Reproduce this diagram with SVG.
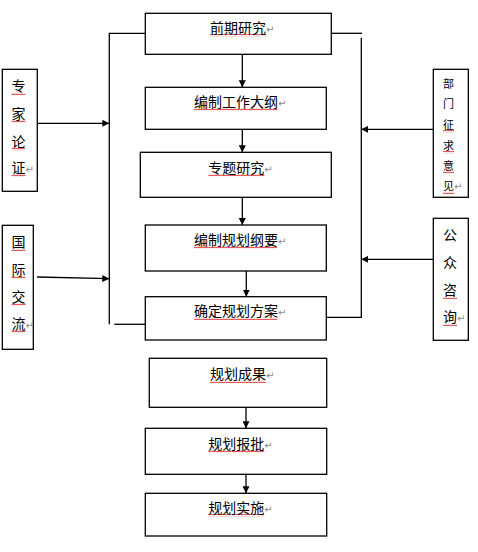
<svg xmlns="http://www.w3.org/2000/svg" width="478" height="552" viewBox="0 0 478 552">
<style>
.box{fill:#fff;stroke:#000;stroke-width:1.3}
.ln{fill:none;stroke:#000;stroke-width:1.3}
.t{font-family:"Noto Sans CJK SC","Noto Sans",sans-serif;font-size:14px;fill:#000}
.s{font-size:11px}
.pm{font-family:"DejaVu Sans",sans-serif;font-size:10px;fill:#888}
.sq{fill:url(#wave)}
</style>
<defs>
<pattern id="wave" width="4" height="3" patternUnits="userSpaceOnUse">
<path d="M0,2.2 L1,0.8 L2,2.2 L3,0.8 L4,2.2" fill="none" stroke="#e03030" stroke-width="0.8"/>
</pattern>
<marker id="ah" markerUnits="userSpaceOnUse" markerWidth="8" markerHeight="7" refX="7" refY="3.5" orient="auto">
<path d="M0,0 L7,3.5 L0,7 z" fill="#000"/>
</marker>
</defs>

<g id="connectors">
<path class="ln" d="M242.3,54.3 V87.3" marker-end="url(#ah)"/>
<path class="ln" d="M242.3,129.3 V152.3" marker-end="url(#ah)"/>
<path class="ln" d="M242.3,197.3 V225" marker-end="url(#ah)"/>
<path class="ln" d="M246.3,271 V296.7" marker-end="url(#ah)"/>
<path class="ln" d="M246,407.3 V428.3" marker-end="url(#ah)"/>
<path class="ln" d="M246,474.3 V493.3" marker-end="url(#ah)"/>
<path class="ln" d="M145.3,33.3 H109.3 V324.3"/>
<path class="ln" d="M114.3,324.3 H145.3"/>
<path class="ln" d="M37.3,123.3 H109.3" marker-end="url(#ah)"/>
<path class="ln" d="M37,277 L109.3,278.7" marker-end="url(#ah)"/>
<path class="ln" d="M331.3,33.3 H362"/>
<path class="ln" d="M361.3,37.7 V317.3 H325.3"/>
<path class="ln" d="M433.3,129.3 H361.3" marker-end="url(#ah)"/>
<path class="ln" d="M433.3,259.3 H361.3" marker-end="url(#ah)"/>
</g>

<g id="n1">
<rect class="box" x="145.3" y="13.3" width="186" height="41"/>
<rect class="sq" x="210" y="34" width="56" height="3"/>
<text class="t" x="210" y="33">前期研究<tspan class="pm">↵</tspan></text>
</g>
<g id="n2">
<rect class="box" x="145.3" y="87.3" width="181" height="42"/>
<rect class="sq" x="194" y="108" width="83" height="3"/>
<text class="t" x="194" y="107">编制工作大纲<tspan class="pm">↵</tspan></text>
</g>
<g id="n3">
<rect class="box" x="140.3" y="152.3" width="191" height="45"/>
<rect class="sq" x="208.3" y="173.5" width="56" height="3"/>
<text class="t" x="208.3" y="172.5">专题研究<tspan class="pm">↵</tspan></text>
</g>
<g id="n4">
<rect class="box" x="145.3" y="225" width="181" height="46"/>
<rect class="sq" x="194" y="246" width="83" height="3"/>
<text class="t" x="194" y="245">编制规划纲要<tspan class="pm">↵</tspan></text>
</g>
<g id="n5">
<rect class="box" x="145.3" y="296.7" width="181" height="43.3"/>
<rect class="sq" x="194" y="317" width="83" height="3"/>
<text class="t" x="194" y="316">确定规划方案<tspan class="pm">↵</tspan></text>
</g>
<g id="n6">
<rect class="box" x="149.3" y="358.3" width="177.4" height="49"/>
<rect class="sq" x="210" y="380" width="56" height="3"/>
<text class="t" x="210" y="379">规划成果<tspan class="pm">↵</tspan></text>
</g>
<g id="n7">
<rect class="box" x="145.3" y="428.3" width="181.4" height="46"/>
<rect class="sq" x="208.3" y="450" width="56" height="3"/>
<text class="t" x="208.3" y="449">规划报批<tspan class="pm">↵</tspan></text>
</g>
<g id="n8">
<rect class="box" x="145.3" y="493.3" width="181.4" height="42.7"/>
<rect class="sq" x="208.3" y="514" width="56" height="3"/>
<text class="t" x="208.3" y="513">规划实施<tspan class="pm">↵</tspan></text>
</g>

<g id="expert">
<rect class="box" x="2.3" y="69.3" width="35" height="122"/>
<rect class="sq" x="11.5" y="92" width="14" height="3"/>
<rect class="sq" x="11.5" y="120" width="14" height="3"/>
<rect class="sq" x="11.5" y="148" width="14" height="3"/>
<rect class="sq" x="11.5" y="174" width="14" height="3"/>
<text class="t" x="11.5" y="91">专</text>
<text class="t" x="11.5" y="119">家</text>
<text class="t" x="11.5" y="147">论</text>
<text class="t" x="11.5" y="173">证<tspan class="pm">↵</tspan></text>
</g>
<g id="intl">
<rect class="box" x="2.3" y="225.3" width="31" height="124"/>
<rect class="sq" x="11.5" y="248" width="14" height="3"/>
<rect class="sq" x="11.5" y="276" width="14" height="3"/>
<rect class="sq" x="11.5" y="303" width="14" height="3"/>
<rect class="sq" x="11.5" y="330" width="14" height="3"/>
<text class="t" x="11.5" y="247">国</text>
<text class="t" x="11.5" y="275">际</text>
<text class="t" x="11.5" y="302">交</text>
<text class="t" x="11.5" y="329">流<tspan class="pm">↵</tspan></text>
</g>
<g id="dept">
<rect class="box" x="433.3" y="69.3" width="35" height="128"/>
<rect class="sq" x="443" y="130" width="11" height="3"/>
<rect class="sq" x="443" y="151" width="11" height="3"/>
<rect class="sq" x="443" y="171" width="11" height="3"/>
<rect class="sq" x="443" y="191" width="11" height="3"/>
<text class="t s" x="443" y="88">部</text>
<text class="t s" x="443" y="108">门</text>
<text class="t s" x="443" y="129">征</text>
<text class="t s" x="443" y="150">求</text>
<text class="t s" x="443" y="170">意</text>
<text class="t s" x="443" y="190">见<tspan class="pm" font-size="6">↵</tspan></text>
</g>
<g id="public">
<rect class="box" x="433.3" y="218.3" width="35" height="122"/>
<rect class="sq" x="443" y="296" width="14" height="3"/>
<rect class="sq" x="443" y="323" width="14" height="3"/>
<text class="t" x="443" y="240">公</text>
<text class="t" x="443" y="268">众</text>
<text class="t" x="443" y="295">咨</text>
<text class="t" x="443" y="322">询<tspan class="pm">↵</tspan></text>
</g>
</svg>
